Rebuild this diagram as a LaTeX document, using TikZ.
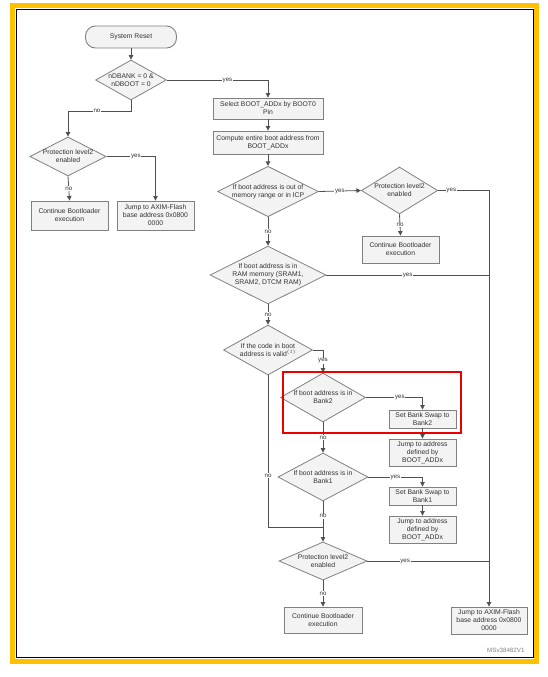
\documentclass[tikz,border=0pt]{standalone}
\usepackage{fontspec}
\usepackage{xcolor}
\usepackage{tikz}
\usetikzlibrary{shapes.geometric, arrows.meta, positioning, calc}
\newfontfamily\flowfamily{Liberation Sans}
\newcommand{\flowfont}{\flowfamily\fontsize{6.8}{8}\selectfont}
\newcommand{\tagfont}{\flowfamily\fontsize{6.2}{7}\selectfont}
\definecolor{framegold}{RGB}{255, 192, 0}
\definecolor{boxgray}{RGB}{128, 128, 128}
\definecolor{boxfill}{RGB}{243, 243, 243}
\definecolor{linegray}{RGB}{80, 80, 80}
\definecolor{textgray}{RGB}{50, 50, 50}
\definecolor{markred}{RGB}{235, 0, 0}

\begin{document}
\begin{tikzpicture}[
    x=1pt, y=-1pt,
    box/.style={
        rectangle,
        draw=boxgray,
        fill=boxfill,
        line width=0.9pt,
        inner sep=1pt,
        align=center,
        text=textgray,
        font=\flowfont
    },
    decision/.style 2 args={
        diamond,
        draw=boxgray,
        fill=boxfill,
        line width=0.8pt,
        inner sep=0pt,
        aspect=2,
        minimum width=#1,
        minimum height=#2,
        align=center,
        text=textgray,
        font=\flowfont
    },
    flow/.style={-{Triangle[length=4.5pt,width=4.5pt]}, draw=linegray, line width=0.8pt},
    wire/.style={draw=linegray, line width=0.8pt},
    lbl/.style={fill=white, inner sep=0.6pt, text=textgray, font=\tagfont}
]
    \useasboundingbox (0,0) rectangle (547,677);

    % Page frame
    \draw[framegold, line width=5pt] (12.5,5.5) rectangle (536.5,661.5);
    \draw[black, line width=0.9pt] (16,9) rectangle (533,657);

    % Start
    \node[box, rounded corners=10pt, minimum width=91pt, minimum height=22pt] (reset) at (131,37) {System Reset};
    \node[decision={68pt}{40pt}] (dbank) at (131,80) {nDBANK = 0 \&\\nDBOOT = 0};

    % Left branch
    \node[decision={76pt}{39pt}] (protL) at (68,156.5) {Protection level2\\enabled};
    \node[box, minimum width=77pt, minimum height=29pt] (contL) at (69.5,215.5) {Continue Bootloader\\execution};
    \node[box, minimum width=77pt, minimum height=29pt] (aximL) at (155.5,215.5) {Jump to AXIM-Flash\\base address 0x0800\\0000};

    % Main column
    \node[box, minimum width=110pt, minimum height=21pt] (select) at (268,108.5) {Select BOOT\_ADDx by BOOT0\\Pin};
    \node[box, minimum width=110pt, minimum height=23pt] (compute) at (268,142.5) {Compute entire boot address from\\BOOT\_ADDx};
    \node[decision={98pt}{49pt}] (outrange) at (268,191.5) {If boot address is out of\\memory range or in ICP};
    \node[decision={73pt}{47pt}] (protA) at (399.5,190.5) {Protection level2\\enabled};
    \node[box, minimum width=77pt, minimum height=27pt] (contA) at (400.5,249.5) {Continue Bootloader\\execution};
    \node[decision={116pt}{52pt}] (ram) at (268,275) {If boot address is in\\RAM memory (SRAM1,\\SRAM2, DTCM RAM)};
    \node[decision={89pt}{50pt}] (valid) at (268,350) {If the code in boot\\address is valid$^{\mathrm{(1)}}$};

    % Bank checks
    \node[decision={83pt}{49pt}] (bank2) at (323,397.5) {If boot address is in\\Bank2};
    \node[box, minimum width=67pt, minimum height=18pt] (swap2) at (422.5,419) {Set Bank Swap to\\Bank2};
    \node[box, minimum width=67pt, minimum height=27pt] (jump2) at (422.5,452.5) {Jump to address\\defined by\\BOOT\_ADDx};
    \node[decision={90pt}{48pt}] (bank1) at (323,477) {If boot address is in\\Bank1};
    \node[box, minimum width=67pt, minimum height=18pt] (swap1) at (422.5,496) {Set Bank Swap to\\Bank1};
    \node[box, minimum width=67pt, minimum height=27pt] (jump1) at (422.5,529.5) {Jump to address\\defined by\\BOOT\_ADDx};

    % Bottom
    \node[decision={88pt}{38pt}] (protB) at (323,561) {Protection level2\\enabled};
    \node[box, minimum width=78pt, minimum height=26pt] (contB) at (323,620) {Continue Bootloader\\execution};
    \node[box, minimum width=76pt, minimum height=27pt] (aximB) at (489,620.5) {Jump to AXIM-Flash\\base address 0x0800\\0000};

    % Junctions
    \coordinate (j1) at (131,111);
    \coordinate (merge) at (323,527);
    \coordinate (teeRam) at (ram.east -| aximB.north);
    \coordinate (teeProt) at (protB.east -| aximB.north);

    % Connectors
    \draw[flow] (reset) -- (dbank);
    \draw[flow] (dbank.east) -| node[lbl, pos=0.3] {yes} (select.north);
    \draw[flow] (dbank.south) -- (j1) -| node[lbl, pos=0.27] {no} (protL.north);
    \draw[flow] (protL.east) -| node[lbl, pos=0.3] {yes} (aximL.north);
    \draw[flow] (protL.south) -- node[lbl] {no} (contL.north);
    \draw[flow] (select) -- (compute);
    \draw[flow] (compute) -- (outrange);
    \draw[flow] (outrange.east) -- node[lbl] {yes} (protA.west);
    \draw[flow] (protA.south) -- node[lbl] {no} (contA.north);
    \draw[flow] (protA.east) -| node[lbl, pos=0.13] {yes} (aximB.north);
    \draw[flow] (outrange.south) -- node[lbl] {no} (ram.north);
    \draw[wire] (ram.east) -- node[lbl] {yes} (teeRam);
    \draw[flow] (ram.south) -- node[lbl] {no} (valid.north);
    \draw[flow] (valid.east) -| node[lbl, pos=0.74] {yes} (bank2.north);
    \draw[flow] (bank2.east) -| node[lbl, pos=0.3] {yes} (swap2.north);
    \draw[flow] (swap2) -- (jump2);
    \draw[flow] (bank2.south) -- node[lbl] {no} (bank1.north);
    \draw[flow] (bank1.east) -| node[lbl, pos=0.25] {yes} (swap1.north);
    \draw[flow] (swap1) -- (jump1);
    \draw[flow] (bank1.south) -- node[lbl, pos=0.37] {no} (protB.north);
    \draw[wire] (valid.south) |- node[lbl, pos=0.33] {no} (merge);
    \draw[wire] (protB.east) -- node[lbl, pos=0.31] {yes} (teeProt);
    \draw[flow] (protB.south) -- node[lbl] {no} (contB.north);

    % Highlight
    \draw[markred, line width=2.2pt] (283,372) rectangle (461,433);

    % Figure tag
    \node[anchor=east, text=boxgray, font=\tagfont] (tag) at (528,650) {MSv38482V1};
\end{tikzpicture}
\end{document}
